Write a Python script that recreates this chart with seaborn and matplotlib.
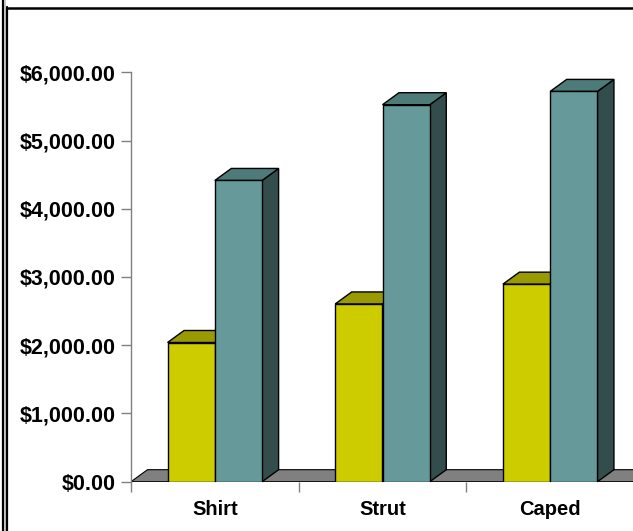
import pandas as pd
import matplotlib.pyplot as plt
import seaborn as sns
from matplotlib.patches import Polygon
from matplotlib.lines import Line2D
from matplotlib.ticker import FuncFormatter

categories = ["Shirt", "Strut", "Caped"]
series_names = ["Series 1", "Series 2"]
series1_values = [2040, 2605, 2895]
series2_values = [4415, 5525, 5720]

front_colors = ["#CCCC00", "#669999"]
top_colors = ["#999900", "#4D7B79"]
side_colors = ["#666600", "#334D4D"]

df = pd.DataFrame({
    "category": categories * 2,
    "series": [series_names[0]] * 3 + [series_names[1]] * 3,
    "value": series1_values + series2_values,
})

sns.set_style("white")
plt.rcParams["font.family"] = ["Liberation Sans", "DejaVu Sans"]

W, H = 633, 531
fig = plt.figure(figsize=(W / 100, H / 100), dpi=100)
ax = fig.add_axes([131 / W, 1 - 481.7 / H, (634 - 131) / W, (481.7 - 72.3) / H])

sns.barplot(data=df, x="category", y="value", hue="series", palette=front_colors,
            width=0.564, gap=0, saturation=1, edgecolor="black", linewidth=1,
            legend=False, ax=ax, zorder=3)

ax.set_xlim(-0.5, 2.5)
ax.set_ylim(0, 6000)

# 3d depth in data units
dx = 16.5 / 167.7
dy = 12.0 / 68.2 * 1000

# floor
floor = Polygon([(-0.5, 0), (3.0, 0), (3.0 + dx, dy), (-0.5 + dx, dy)], closed=True,
                facecolor="#808080", edgecolor="black", linewidth=0.8, zorder=1,
                clip_on=True)
ax.add_patch(floor)

for i, cont in enumerate(ax.containers):
    base_z = 3 + 3 * i
    for bar in cont:
        x0 = bar.get_x()
        w = bar.get_width()
        h = bar.get_height()
        bar.set_zorder(base_z + 2)
        side = Polygon([(x0 + w, 0), (x0 + w + dx, dy), (x0 + w + dx, h + dy), (x0 + w, h)],
                       closed=True, facecolor=side_colors[i], edgecolor="black",
                       linewidth=1, zorder=base_z, clip_on=False)
        top = Polygon([(x0, h), (x0 + w, h), (x0 + w + dx, h + dy), (x0 + dx, h + dy)],
                      closed=True, facecolor=top_colors[i], edgecolor="black",
                      linewidth=1, zorder=base_z + 1, clip_on=False)
        ax.add_patch(side)
        ax.add_patch(top)

sns.despine(ax=ax, top=True, right=True)
ax.spines["left"].set_color("#808080")
ax.spines["left"].set_linewidth(1)
ax.spines["bottom"].set_visible(False)

ax.set_yticks(range(0, 6001, 1000))
ax.yaxis.set_major_formatter(FuncFormatter(lambda v, p: f"${v:,.2f}"))
ax.tick_params(axis="y", length=7, width=1, color="#808080", pad=4,
               labelsize=15.5, labelcolor="black", left=True)
for lbl in ax.get_yticklabels():
    lbl.set_fontweight("bold")

ax.set_xticks(range(len(categories)))
ax.set_xticklabels(categories, fontsize=14.5, fontweight="bold", color="black")
ax.tick_params(axis="x", length=0, pad=13, bottom=True)
ax.set_xticks([-0.5, 0.5, 1.5, 2.5], minor=True)
ax.tick_params(axis="x", which="minor", length=7, width=1, color="#808080", bottom=True)

ax.set_xlabel("")
ax.set_ylabel("")
ax.grid(False)
ax.set_facecolor("white")

# outer frame lines (cropped chart border)
fig.add_artist(Line2D([3 / W, 3 / W], [0, 1], color="black", linewidth=1.6,
                      transform=fig.transFigure))
fig.add_artist(Line2D([5 / W, 5 / W], [0, 1], color="#BBBBBB", linewidth=1.2,
                      transform=fig.transFigure))
fig.add_artist(Line2D([7.5 / W, 7.5 / W], [0, 1 - 7 / H], color="black", linewidth=1.6,
                      transform=fig.transFigure))
fig.add_artist(Line2D([6.5 / W, 1], [1 - 8 / H, 1 - 8 / H], color="black", linewidth=1.8,
                      transform=fig.transFigure))

fig.savefig("out.png", dpi=100)
